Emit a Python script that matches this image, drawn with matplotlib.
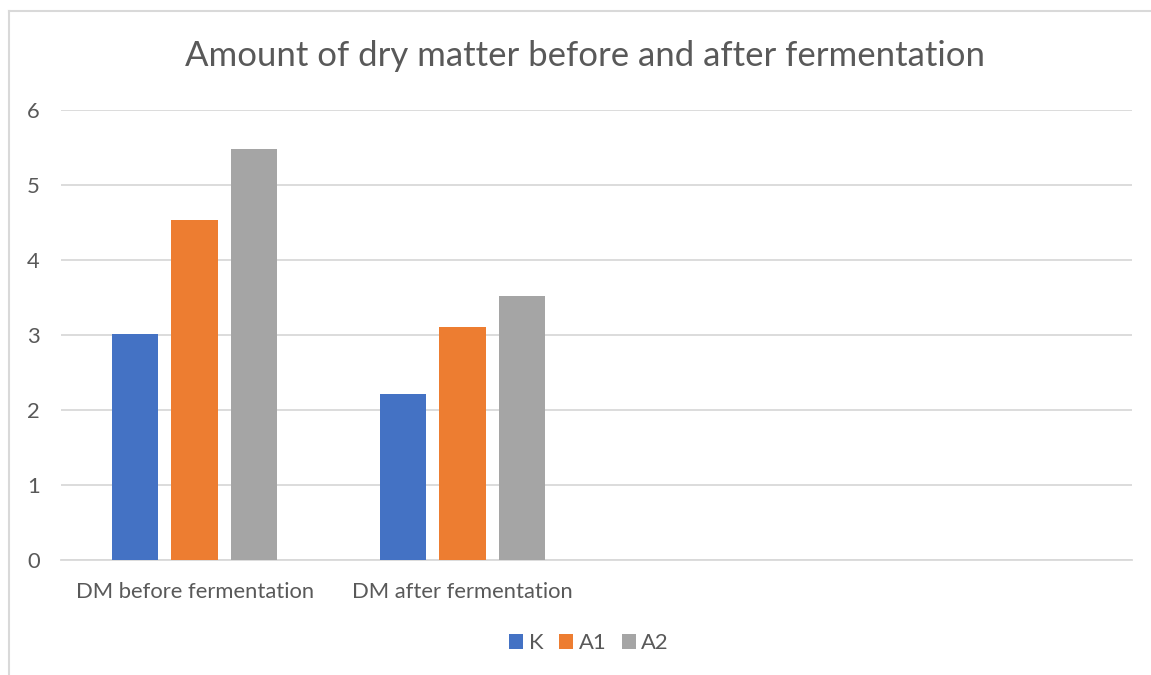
import matplotlib
matplotlib.use("Agg")
import matplotlib.pyplot as plt
from matplotlib.lines import Line2D
import numpy as np

categories = ["DM before fermentation", "DM after fermentation", "", ""]
series_names = ["K", "A1", "A2"]
K_vals = [3.02, 2.21]
A1_vals = [4.54, 3.11]
A2_vals = [5.48, 3.52]
colors = ["#4472C4", "#ED7D31", "#A5A5A5"]
yticks = [0, 1, 2, 3, 4, 5, 6]
title = "Amount of dry matter before and after fermentation"

W, H = 1151, 675
fig = plt.figure(figsize=(W / 100, H / 100), dpi=100)
plt.rcParams['font.family'] = ['Lato', 'DejaVu Sans']
txt = "#595959"

# outer chart border (only left and top visible in reference)
fig.lines.append(Line2D([9 / W, 9 / W], [0, 1 - 11 / H], transform=fig.transFigure,
                        color="#D9D9D9", linewidth=1.5))
fig.lines.append(Line2D([9 / W, 1], [1 - 11 / H, 1 - 11 / H], transform=fig.transFigure,
                        color="#D9D9D9", linewidth=1.5))

left, right, top, bottom = 60.7, 1132, 110, 560
ax = fig.add_axes([left / W, 1 - bottom / H, (right - left) / W, (bottom - top) / H])

x = np.arange(len(K_vals))
bw = 0.1735
off = 0.2216
for i, (vals, c, n) in enumerate(zip([K_vals, A1_vals, A2_vals], colors, series_names)):
    ax.bar(x + (i - 1) * off, vals, width=bw, color=c, label=n, zorder=3)

ax.set_xlim(-0.5, len(categories) - 0.5)
ax.set_ylim(0, 6)
ax.set_yticks(yticks)
ax.set_yticklabels([str(v) for v in yticks])
ax.set_xticks(np.arange(len(categories)))
ax.set_xticklabels(categories)
ax.grid(axis="y", color="#D9D9D9", linewidth=1.3, zorder=0)
for s in ["top", "right", "left"]:
    ax.spines[s].set_visible(False)
ax.spines["bottom"].set_color("#D9D9D9")
ax.spines["bottom"].set_linewidth(1.3)
ax.tick_params(axis="both", length=0, colors=txt, labelsize=15.8)
ax.tick_params(axis="y", pad=15)
ax.tick_params(axis="x", pad=16)

fig.text(585 / W, 1 - 56 / H, title, ha="center", va="center", fontsize=25, color=txt)

handles, labels = ax.get_legend_handles_labels()
fig.legend(handles, labels, loc="center", bbox_to_anchor=(589 / W, 1 - 643 / H), ncol=3,
           frameon=False, fontsize=15.8, labelcolor=txt, handlelength=0.65, handleheight=0.65,
           handletextpad=0.25, columnspacing=0.7)

fig.savefig("out.png", dpi=100)
